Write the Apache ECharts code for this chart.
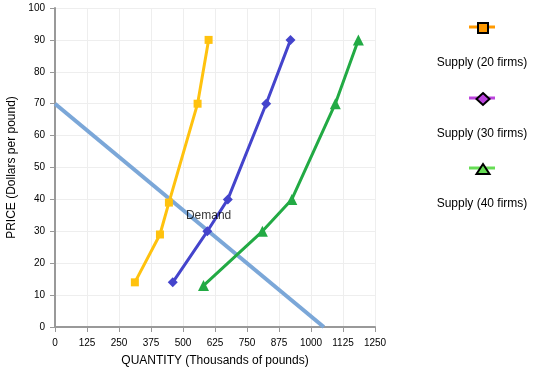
<!DOCTYPE html>
<html><head><meta charset="utf-8">
<script src="https://cdn.jsdelivr.net/npm/echarts@6/dist/echarts.min.js"></script>
<style>html,body{margin:0;padding:0;background:#fff}#c{width:539px;height:375px}</style>
</head><body><div id="c"></div>
<script>
const xTicks = [0,125,250,375,500,625,750,875,1000,1125,1250];
const yTicks = [0,10,20,30,40,50,60,70,80,90,100];
const supply20 = [[312,14],[410,29],[445,39],[557,70],[600,90]];
const supply30 = [[460,14],[595,30],[675,40],[825,70],[920,90]];
const supply40 = [[580,13],[810,30],[925,40],[1095,70],[1185,90]];
const demand = [[0,70],[1050,0]];
const demandLabel = [[600,35]];
const seriesNames = ['Supply (20 firms)','Supply (30 firms)','Supply (40 firms)'];

const chart = echarts.init(document.getElementById('c'));
const font = 'Liberation Sans, Arial, sans-serif';
const legendColors = ['#ff9900','#bb44dd','#66dd55'];
const legendIcons = ['rect','diamond','triangle'];
const legendSizes = [[10,10],[13,12],[13,10]];
const legendCenters = [27, 98, 168];
const legends = seriesNames.map((n,i)=>({
  left: 482 - legendSizes[i][0]/2, top: legendCenters[i] - legendSizes[i][1]/2,
  padding: 0, itemWidth: legendSizes[i][0], itemHeight: legendSizes[i][1], z: 10,
  formatter: () => '', selectedMode: false, itemGap: 0,
  data: [{name: n, icon: legendIcons[i],
    itemStyle:{color: legendColors[i], borderColor:'#000', borderWidth:2}}]
}));
const legendLine = seriesNames.map((n,i)=>({type:'line', z:1,
  shape:{x1:469,y1:legendCenters[i],x2:495,y2:legendCenters[i]},
  style:{stroke:legendColors[i], lineWidth:3}}));
const legendText = seriesNames.map((n,i)=>({type:'text', x:482, y:legendCenters[i]+36, z:1,
  style:{text:n, textAlign:'center', textVerticalAlign:'middle', font:'12px '+font, fill:'#000'}}));

chart.setOption({
  animation:false,
  textStyle:{fontFamily:font},
  grid:{left:55, right:164, top:8, bottom:48, containLabel:false, outerBoundsMode:'none'},
  legend: legends,
  graphic: legendLine.concat(legendText),
  xAxis:{type:'value', min:0, max:1250, interval:125,
    name:'QUANTITY (Thousands of pounds)', nameLocation:'middle', nameGap:28,
    nameTextStyle:{color:'#000', fontSize:12},
    axisLine:{lineStyle:{color:'#999', width:2}},
    axisTick:{show:true, length:5, lineStyle:{color:'#999'}},
    axisLabel:{color:'#000', fontSize:10, margin:11, formatter: v => String(v)},
    splitLine:{show:true, lineStyle:{color:'#eeeeee', width:1}}},
  yAxis:{type:'value', min:0, max:100, interval:10,
    name:'PRICE (Dollars per pound)', nameLocation:'middle', nameGap:37,
    nameTextStyle:{color:'#000', fontSize:12},
    axisLine:{show:true, lineStyle:{color:'#999', width:2}},
    axisTick:{show:true, length:5, lineStyle:{color:'#999'}},
    axisLabel:{color:'#000', fontSize:10, margin:10, formatter: v => String(v)},
    splitLine:{show:true, lineStyle:{color:'#eeeeee', width:1}}},
  series:[
    {name:'Demand', type:'line', data:demand, symbol:'none', lineStyle:{color:'#7ba7d8', width:4}, z:1},
    {name:seriesNames[0], type:'line', data:supply20, symbol:'rect', symbolSize:8, color:'#ffc20e', lineStyle:{color:'#ffc20e', width:3}, itemStyle:{color:'#ffc20e'}, z:3},
    {name:seriesNames[1], type:'line', data:supply30, symbol:'diamond', symbolSize:10, color:'#4444cc', lineStyle:{color:'#4444cc', width:3}, itemStyle:{color:'#4444cc'}, z:3},
    {name:seriesNames[2], type:'line', data:supply40, symbol:'triangle', symbolSize:11, color:'#22aa44', lineStyle:{color:'#22aa44', width:3}, itemStyle:{color:'#22aa44'}, z:3},
    {name:'DemandLabel', type:'scatter', data:demandLabel, symbolSize:0, z:5,
      label:{show:true, position:'inside', formatter:'Demand', color:'#000', fontSize:12}}
  ]
});
</script></body></html>
